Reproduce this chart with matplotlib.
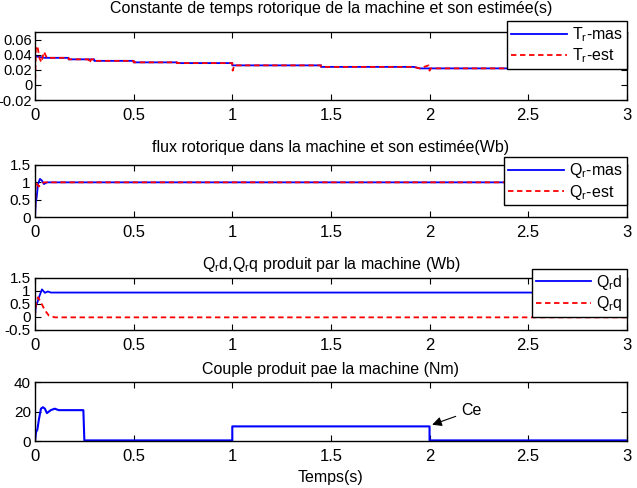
import numpy as np
import matplotlib
matplotlib.use("Agg")
import matplotlib.pyplot as plt

plt.rcParams['font.family'] = ['Liberation Sans', 'DejaVu Sans']
plt.rcParams['mathtext.fontset'] = 'custom'
plt.rcParams['mathtext.rm'] = 'Liberation Sans'
plt.rcParams['mathtext.it'] = 'Liberation Sans'

# --- Tr : constante de temps rotorique
tr_mas_t = [0, 0.05, 0.05, 0.17, 0.17, 0.30, 0.30, 0.50, 0.50, 0.72, 0.72, 1.0, 1.0, 1.45, 1.45, 1.92, 1.95, 3.0]
tr_mas_v = [0.038, 0.036, 0.036, 0.036, 0.034, 0.034, 0.032, 0.032, 0.030, 0.030, 0.029, 0.029, 0.026, 0.026, 0.024, 0.024, 0.022, 0.022]
tr_est_t = [0, 0.004, 0.012, 0.022, 0.032, 0.045, 0.06, 0.17, 0.17, 0.27, 0.275, 0.285, 0.30, 0.30, 0.50, 0.50, 0.72, 0.72,
            1.0, 1.002, 1.01, 1.45, 1.45, 1.92, 1.95, 1.995, 2.0, 2.005, 3.0]
tr_est_v = [-0.005, 0.048, 0.052, 0.036, 0.030, 0.044, 0.036, 0.036, 0.034, 0.034, 0.029, 0.034, 0.034, 0.032, 0.032, 0.030, 0.030, 0.029,
            0.029, 0.019, 0.026, 0.026, 0.024, 0.024, 0.022, 0.026, 0.019, 0.022, 0.022]

# --- flux rotorique
qr_mas_t = [0, 0.004, 0.008, 0.015, 0.025, 0.035, 0.045, 0.06, 3.0]
qr_mas_v = [0.0, 0.45, 0.55, 0.95, 1.1, 1.05, 0.95, 1.0, 1.0]
qr_est_t = [0, 0.003, 0.01, 0.02, 0.03, 0.045, 0.06, 3.0]
qr_est_v = [0.0, 1.0, 0.95, 0.88, 0.95, 1.0, 1.0, 1.0]

# --- Qrd, Qrq
qrd_t = [0, 0.005, 0.012, 0.02, 0.035, 0.05, 0.065, 0.08, 3.0]
qrd_v = [0.1, 0.45, 0.55, 0.75, 1.05, 0.92, 0.97, 0.93, 0.93]
qrq_t = [0, 0.005, 0.015, 0.03, 0.05, 0.07, 0.1, 3.0]
qrq_v = [0.0, 0.5, 0.75, 0.55, 0.25, 0.05, -0.02, -0.02]

# --- couple
ce_t = [0, 0.005, 0.012, 0.02, 0.03, 0.04, 0.05, 0.06, 0.08, 0.1, 0.12, 0.245, 0.25, 1.0, 1.0, 2.0, 2.0, 3.0]
ce_v = [0, 6, 8, 15, 22, 23, 22, 19, 21, 22, 21, 21, 0.5, 0.5, 10, 10, 0.5, 0.5]

blue = '#0000FF'
red = '#FF0000'
dash = (3, 2)

fig = plt.figure(figsize=(6.37, 4.88), dpi=100)
L, W = 0.055, 0.929
ax1 = fig.add_axes([L, 0.795, W, 0.139])
ax2 = fig.add_axes([L, 0.555, W, 0.107])
ax3 = fig.add_axes([L, 0.324, W, 0.107])
ax4 = fig.add_axes([L, 0.096, W, 0.121])

leg_kw = dict(loc='upper right', fontsize=11.5, fancybox=False, edgecolor='black', framealpha=1,
              borderpad=0.25, labelspacing=0.15, handlelength=3.5, borderaxespad=0, handletextpad=0.3)

ax1.plot(tr_mas_t, tr_mas_v, color=blue, lw=1.3, label=r'T$_r$-mas')
ax1.plot(tr_est_t, tr_est_v, color=red, lw=1.3, ls='--', dashes=dash, label=r'T$_r$-est')
ax1.set_ylim(-0.02, 0.07)
ax1.set_yticks([-0.02, 0, 0.02, 0.04, 0.06])
ax1.set_yticklabels(['-0.02', '0', '0.02', '0.04', '0.06'])
ax1.set_title('Constante de temps rotorique de la machine et son estimée(s)', fontsize=11.5, pad=14)
ax1.legend(bbox_to_anchor=(1.0, 1.16), **leg_kw)

ax2.plot(qr_mas_t, qr_mas_v, color=blue, lw=1.3, label=r'Q$_r$-mas')
ax2.plot(qr_est_t, qr_est_v, color=red, lw=1.3, ls='--', dashes=dash, label=r'Q$_r$-est')
ax2.set_ylim(0, 1.5)
ax2.set_yticks([0, 0.5, 1, 1.5])
ax2.set_yticklabels(['0', '0.5', '1', '1.5'])
ax2.set_title('flux rotorique dans la machine et son estimée(Wb)', fontsize=11.5, pad=9)
ax2.legend(bbox_to_anchor=(1.0, 1.15), **leg_kw)

ax3.plot(qrd_t, qrd_v, color=blue, lw=1.3, label=r'Q$_r$d')
ax3.plot(qrq_t, qrq_v, color=red, lw=1.3, ls='--', dashes=dash, label=r'Q$_r$q')
ax3.set_ylim(-0.5, 1.5)
ax3.set_yticks([-0.5, 0, 0.5, 1, 1.5])
ax3.set_yticklabels(['-0.5', '0', '0.5', '1', '1.5'])
ax3.set_title(r'Q$_r$d,Q$_r$q produit par la machine (Wb)', fontsize=11.5, pad=6)
ax3.legend(bbox_to_anchor=(1.0, 1.17), **leg_kw)

ax4.plot(ce_t, ce_v, color=blue, lw=1.5)
ax4.set_ylim(0, 40)
ax4.set_yticks([0, 20, 40])
ax4.set_title('Couple produit pae la machine (Nm)', fontsize=11.5, pad=6)
ax4.set_xlabel('Temps(s)', fontsize=11.5, labelpad=4)
ax4.annotate('Ce', xy=(2.0, 10.5), xytext=(2.16, 17.5), fontsize=11.5,
             arrowprops=dict(arrowstyle='-|>', color='black', lw=0.8, mutation_scale=14))

for ax in (ax1, ax2, ax3, ax4):
    ax.set_xlim(0, 3)
    ax.set_xticks([0, 0.5, 1, 1.5, 2, 2.5, 3])
    ax.set_xticklabels(['0', '0.5', '1', '1.5', '2', '2.5', '3'])
    ax.tick_params(direction='in', top=True, right=True, length=4)
    ax.tick_params(axis='x', labelsize=12, pad=6)
    ax.tick_params(axis='y', labelsize=11, pad=3)
    for s in ax.spines.values():
        s.set_linewidth(1.0)
ax1.tick_params(axis='y', labelsize=10.5, pad=2)

fig.savefig('out.png', dpi=100)
